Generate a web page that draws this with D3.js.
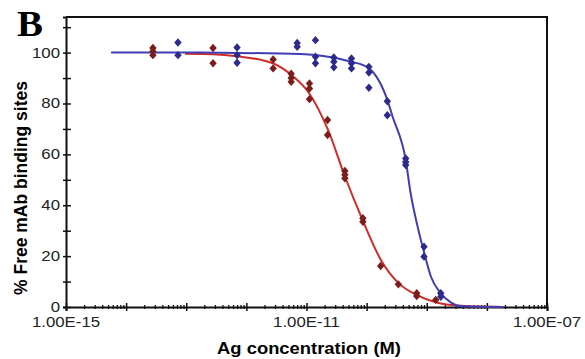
<!DOCTYPE html>
<html>
<head>
<meta charset="utf-8">
<script src="https://cdn.jsdelivr.net/npm/d3@7"></script>
<style>
  body { margin: 0; background: #fff; }
  text { font-family: Arial, "Liberation Sans", sans-serif; }
</style>
</head>
<body>
<div id="chart"></div>
<script>
// measured points (Ag concentration in M, % free mAb binding sites)
var redConc = [2.79e-14, 2.79e-14, 2.79e-14, 2.79e-13, 2.79e-13, 2.79e-12, 2.79e-12,
               5.56e-12, 5.56e-12, 5.56e-12, 1.12e-11, 1.12e-11, 1.12e-11, 2.24e-11, 2.24e-11,
               4.35e-11, 4.35e-11, 4.35e-11, 8.67e-11, 8.67e-11, 1.71e-10, 3.37e-10,
               6.81e-10, 6.81e-10, 1.41e-9];
var redPct  = [101.8, 100.5, 99, 101.8, 95.8, 97.3, 93.8,
               91.7, 90, 88.5, 87.9, 85.9, 81.7, 73.5, 67.6,
               53.5, 52, 50.6, 34.9, 33.5, 16.1, 8.9,
               5.4, 4.3, 2.8];

var blueConc = [7.28e-14, 7.28e-14, 7.0e-13, 7.0e-13, 7.0e-13, 7.0e-12, 7.0e-12,
                1.41e-11, 1.41e-11, 1.41e-11, 2.85e-11, 2.85e-11, 2.85e-11,
                5.6e-11, 5.6e-11, 5.6e-11, 1.09e-10, 1.09e-10, 1.09e-10,
                2.21e-10, 2.21e-10, 4.47e-10, 4.47e-10, 4.47e-10,
                9.0e-10, 9.0e-10, 1.71e-9, 1.71e-9];
var bluePct  = [104, 99, 102, 99, 96, 103.8, 102.3,
                104.9, 98.4, 95.8, 98.1, 96.4, 94.2,
                97.7, 95.8, 93.8, 94.4, 92.2, 86.2,
                80.9, 75.4, 58.4, 57, 55.8,
                23.7, 19.8, 5.4, 4.0];

// fitted curves
var redFitConc = [9.55e-14, 2.75e-13, 6.92e-13, 2.75e-12, 5.62e-12, 1.07e-11, 2.29e-11,
                  4.37e-11, 8.71e-11, 1.70e-10, 3.39e-10, 6.76e-10, 1.41e-9, 3.72e-9, 1.86e-8];
var redFitPct  = [99.6, 99.4, 98.6, 95.8, 91.2, 84.5, 69.5,
                  51.2, 33.8, 18.8, 9.4, 4.8, 1.9, 0.5, 0];

var blueFitConc = [5.62e-15, 1.70e-13, 3.72e-12, 1.41e-11, 2.82e-11, 5.62e-11, 1.07e-10,
                   2.24e-10, 2.69e-10, 4.47e-10, 5.37e-10, 7.08e-10, 8.91e-10, 1.17e-9,
                   1.70e-9, 2.51e-9, 3.72e-9, 1.86e-8];
var blueFitPct  = [100, 100, 99.7, 99.1, 98, 96.4, 94,
                   81, 75, 57.8, 45, 31.4, 22, 12,
                   5.5, 1.8, 0.3, 0];

var xTickVals = [1e-15, 1e-11, 1e-7];
var xTickLabels = ["1.00E-15", "1.00E-11", "1.00E-07"];
var yTickVals = [0, 20, 40, 60, 80, 100];

var width = 585, height = 359;

var x = d3.scaleLog()
    .domain([1e-15, 1e-7])
    .range([66, 547]);

var y = d3.scaleLinear()
    .domain([0, 114])
    .range([307, 17]);

var svg = d3.select("#chart").append("svg")
    .attr("width", width)
    .attr("height", height);

// frame top / right
svg.append("path")
    .attr("d", "M" + x.range()[0] + "," + y(114) + "H" + x.range()[1] + "V" + y(0))
    .attr("fill", "none")
    .attr("stroke", "#111")
    .attr("stroke-width", 2);

// y axis, ticks crossing the line
var yAxis = svg.append("g")
    .attr("transform", "translate(" + x.range()[0] + ",0)")
    .call(d3.axisLeft(y).tickValues(d3.range(0, 111, 10)).tickSize(3).tickFormat(""));
yAxis.selectAll(".tick line").attr("x1", 5).attr("stroke", "#111").attr("stroke-width", 1.5);
yAxis.select(".domain").attr("stroke", "#111").attr("stroke-width", 2);

// x axis, decade ticks and minor ticks
var minors = [];
for (var e = -15; e < -7; e++) {
    for (var m = 2; m <= 9; m++) minors.push(m * Math.pow(10, e));
}
var xMinor = svg.append("g")
    .attr("transform", "translate(0," + y(0) + ")")
    .call(d3.axisBottom(x).tickValues(minors).tickSize(2).tickFormat(""));
xMinor.selectAll(".tick line").attr("y1", -2).attr("stroke", "#111").attr("stroke-width", 1.3);
xMinor.select(".domain").remove();

var decades = d3.range(-15, -6).map(function(d) { return Math.pow(10, d); });
var xAxis = svg.append("g")
    .attr("transform", "translate(0," + y(0) + ")")
    .call(d3.axisBottom(x).tickValues(decades).tickSize(4).tickFormat(""));
xAxis.selectAll(".tick line").attr("y1", -4).attr("stroke", "#111").attr("stroke-width", 1.5);
xAxis.select(".domain").attr("stroke", "#111").attr("stroke-width", 2);

// tick labels (the figure is stretched sideways a bit)
svg.selectAll(".ylab")
    .data(yTickVals).enter()
    .append("text")
    .attr("class", "ylab")
    .attr("text-anchor", "end")
    .attr("transform", function(d) { return "translate(60," + (y(d) + 5) + ") scale(1.2,1)"; })
    .style("font-size", "14px")
    .style("fill", "#222")
    .text(function(d) { return d; });

svg.selectAll(".xlab")
    .data(xTickVals).enter()
    .append("text")
    .attr("class", "xlab")
    .attr("text-anchor", "middle")
    .attr("transform", function(d) { return "translate(" + x(d) + ",327) scale(1.2,1)"; })
    .style("font-size", "14px")
    .style("fill", "#222")
    .text(function(d, i) { return xTickLabels[i]; });

// axis titles
svg.append("text")
    .attr("text-anchor", "middle")
    .attr("transform", "translate(309,354) scale(1.15,1)")
    .style("font-size", "16px")
    .style("font-weight", "bold")
    .text("Ag concentration (M)");

svg.append("text")
    .attr("text-anchor", "middle")
    .attr("transform", "translate(27,188) rotate(-90)")
    .style("font-size", "17.5px")
    .style("font-weight", "bold")
    .text("% Free mAb binding sites");

svg.append("text")
    .attr("transform", "translate(17,36) scale(1.08,1)")
    .style("font-family", "'Liberation Serif', 'Times New Roman', serif")
    .style("font-size", "36px")
    .style("font-weight", "bold")
    .text("B");

// fitted curves
var line = d3.line()
    .x(function(d) { return x(d[0]); })
    .y(function(d) { return y(d[1]); })
    .curve(d3.curveMonotoneX);

svg.append("path")
    .datum(d3.zip(redFitConc, redFitPct))
    .attr("d", line)
    .attr("fill", "none")
    .attr("stroke", "#d02c28")
    .attr("stroke-width", 2);

svg.append("path")
    .datum(d3.zip(blueFitConc, blueFitPct))
    .attr("d", line)
    .attr("fill", "none")
    .attr("stroke", "#3f3db6")
    .attr("stroke-width", 2);

// diamond markers
var diamond = "M0,-4.2L3.7,0L0,4.2L-3.7,0Z";

svg.selectAll(".red")
    .data(d3.zip(redConc, redPct)).enter()
    .append("path")
    .attr("class", "red")
    .attr("d", diamond)
    .attr("transform", function(d) { return "translate(" + x(d[0]) + "," + y(d[1]) + ")"; })
    .style("fill", "#7a1d1d");

svg.selectAll(".blue")
    .data(d3.zip(blueConc, bluePct)).enter()
    .append("path")
    .attr("class", "blue")
    .attr("d", diamond)
    .attr("transform", function(d) { return "translate(" + x(d[0]) + "," + y(d[1]) + ")"; })
    .style("fill", "#2c2a8a");
</script>
</body>
</html>
